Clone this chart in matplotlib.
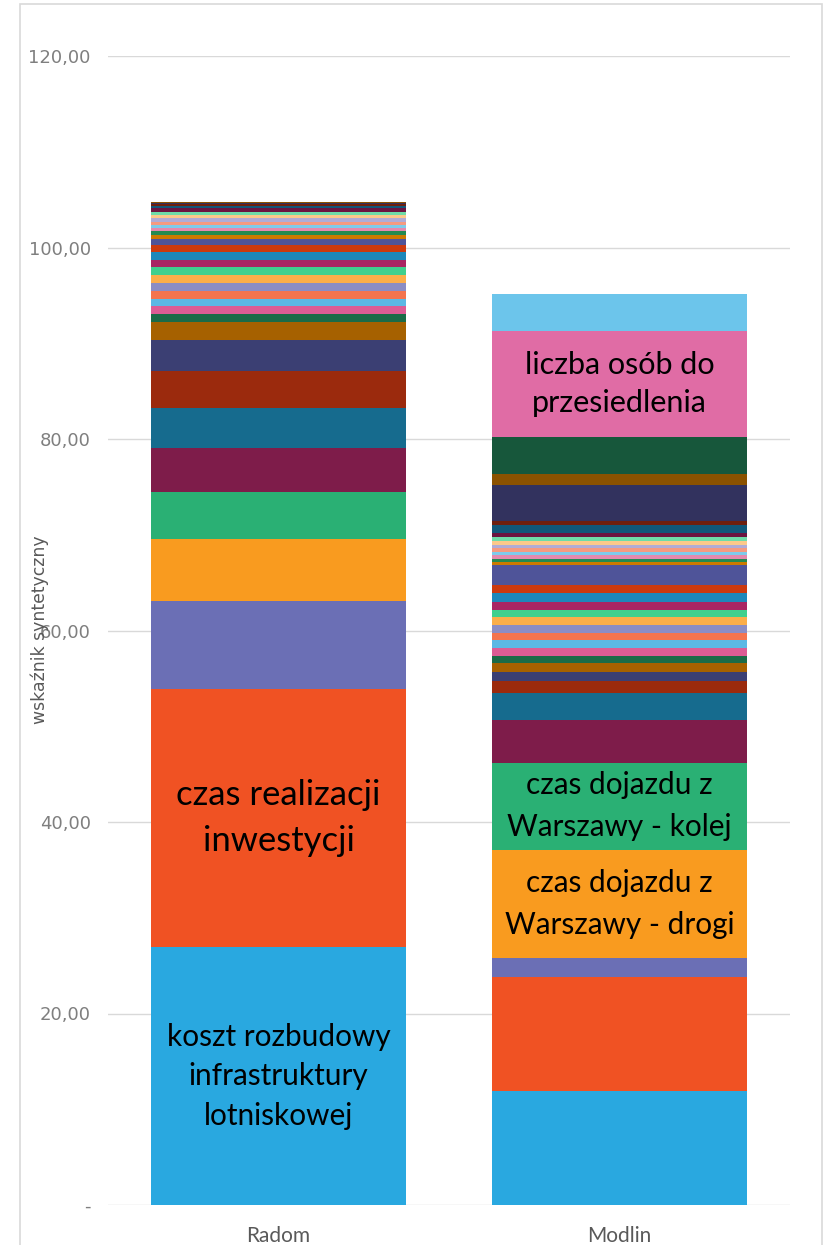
import matplotlib
matplotlib.use("Agg")
import matplotlib.pyplot as plt
from matplotlib.patches import Rectangle
from matplotlib.ticker import FuncFormatter

# ---------------- data ----------------
categories = ["Radom", "Modlin"]

series_names = [
    "koszt rozbudowy infrastruktury lotniskowej", "czas realizacji inwestycji",
    "kryterium 3", "czas dojazdu z Warszawy - drogi", "czas dojazdu z Warszawy - kolej",
    "kryterium 6", "kryterium 7", "kryterium 8", "kryterium 9", "kryterium 10",
    "kryterium 11", "kryterium 12", "kryterium 13", "kryterium 14", "kryterium 15",
    "kryterium 16", "kryterium 17", "kryterium 18", "kryterium 19", "kryterium 20",
    "kryterium 21", "kryterium 22", "kryterium 23", "kryterium 24", "kryterium 25",
    "kryterium 26", "kryterium 27", "kryterium 28", "kryterium 29", "kryterium 30",
    "kryterium 31", "kryterium 32", "kryterium 33", "kryterium 34", "kryterium 35",
    "liczba osób do przesiedlenia", "kryterium 37",
]

radom_values = [
    26.94, 26.92, 9.22, 6.44, 4.98, 4.53, 4.18, 3.89, 3.24, 1.88,
    0.83, 0.81, 0.79, 0.84, 0.83, 0.81, 0.80, 0.76, 0.81, 0.76,
    0.63, 0.42, 0.41, 0.28, 0.35, 0.35, 0.41, 0.28, 0.35, 0.42,
    0.21, 0.17, 0.12, 0.12, 0.00, 0.00, 0.00,
]

modlin_values = [
    11.91, 11.91, 1.98, 11.28, 9.12, 4.46, 2.79, 1.28, 0.97, 0.91,
    0.76, 0.84, 0.77, 0.79, 0.77, 0.84, 0.79, 0.84, 0.88, 0.84,
    2.15, 0.28, 0.34, 0.36, 0.34, 0.42, 0.34, 0.36, 0.42, 0.42,
    0.90, 0.42, 3.73, 1.15, 3.86, 11.07, 3.86,
]

radom_labels = {0: "koszt rozbudowy\ninfrastruktury\nlotniskowej",
                1: "czas realizacji\ninwestycji"}
modlin_labels = {3: "czas dojazdu z\nWarszawy - drogi",
                 4: "czas dojazdu z\nWarszawy - kolej",
                 35: "liczba osób do\nprzesiedlenia"}

y_ticks = [0, 20, 40, 60, 80, 100, 120]
y_label = "wskaźnik syntetyczny"

# ---------------- style ----------------
colors = [
    "#29A8E0", "#F05223", "#6B6FB5", "#F99B1F", "#2AB074", "#7E1C4A",
    "#166B8E", "#9B2A0D", "#3B3F73", "#A66100", "#1B6B47", "#DD5C94",
    "#5CB8E4", "#F4744E", "#8B8DC4", "#FBAE4A", "#40D08E", "#A92663",
    "#1E88BA", "#CC3A0F", "#4F5499", "#CC7A00", "#238A50", "#E48AAE",
    "#7ECBEB", "#F59A80", "#B0ACD6", "#FCC98A", "#6EDCA8", "#6B1440",
    "#10577A", "#6E1F0F", "#32325E", "#8B5200", "#17573B", "#E06CA5",
    "#6CC5EB",
]
# (font size, line spacing) for each label
label_style = {(0, 0): (21.4, 1.5), (0, 1): (24.9, 1.52),
               (1, 3): (21.4, 1.6), (1, 4): (21.4, 1.6), (1, 35): (22.0, 1.43)}

W, H = 825, 1245
fig = plt.figure(figsize=(W / 100, H / 100), dpi=100)
fig.patch.set_facecolor("white")

# chart border
fig.patches.append(Rectangle((20 / W, -0.1), (822 - 20) / W, 1.1 - 4 / H,
                             transform=fig.transFigure, fill=False,
                             edgecolor="#D9D9D9", linewidth=1.2))

ax = fig.add_axes([108 / W, 40 / H, (790 - 108) / W, (1205 - 56) / H])
ax.set_ylim(0, 120)
ax.set_xlim(-0.5, 1.5)

values = [radom_values, modlin_values]
labels = [radom_labels, modlin_labels]
x = [0.005, 1.0]
x = list(range(len(categories)))
bottoms = [0.0] * len(categories)
for i, name in enumerate(series_names):
    vals = [values[c][i] for c in range(len(categories))]
    ax.bar(x, vals, bottom=bottoms, width=0.745, color=colors[i],
           linewidth=0, zorder=3, label=name)
    for c in range(len(categories)):
        if i in labels[c]:
            fs, ls = label_style[(c, i)]
            ax.text(x[c], bottoms[c] + vals[c] / 2, labels[c][i],
                    ha="center", va="center", fontsize=fs,
                    family=["Lato", "DejaVu Sans"], color="black",
                    linespacing=ls, zorder=5)
    bottoms = [b + v for b, v in zip(bottoms, vals)]

ax.set_yticks(y_ticks)
ax.yaxis.set_major_formatter(FuncFormatter(
    lambda v, p: "-" if v == 0 else f"{v:.2f}".replace(".", ",")))
ax.tick_params(axis="y", length=0, pad=12.5, labelsize=13, labelcolor="#7F7F7F")
ax.tick_params(axis="x", length=0, pad=15, labelsize=15, labelcolor="#595959")
ax.set_xticks(x)
ax.set_xticklabels(categories, family=["Lato", "DejaVu Sans"])
ax.yaxis.grid(True, color="#D9D9D9", linewidth=1, zorder=0)
ax.set_axisbelow(True)
for s in ax.spines.values():
    s.set_visible(False)

fig.text(40 / W, 1 - 630 / H, y_label, rotation=90, ha="center", va="center",
         fontsize=12.4, color="#595959",
         family=["Liberation Sans Narrow", "DejaVu Sans"])

fig.savefig("out.png", dpi=100, facecolor="white")
